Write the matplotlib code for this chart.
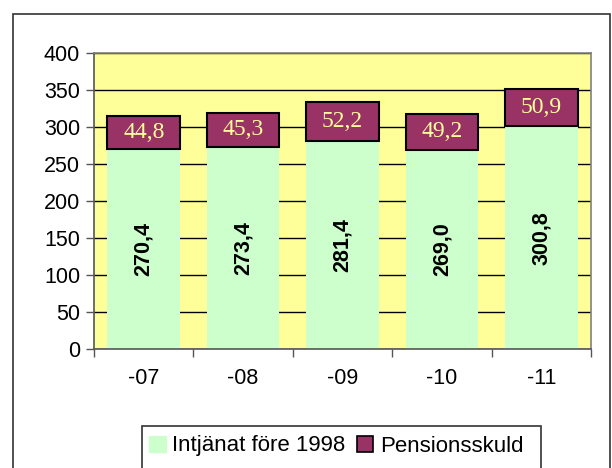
import matplotlib
matplotlib.use("Agg")
import matplotlib.pyplot as plt
from matplotlib.patches import Rectangle, Patch

years = ["-07", "-08", "-09", "-10", "-11"]
intjanat = [270.4, 273.4, 281.4, 269.0, 300.8]
skuld = [44.8, 45.3, 52.2, 49.2, 50.9]

GREEN = "#ccffcc"
PURPLE = "#993366"
BG = "#ffff99"
SANS = "Liberation Sans"
SERIF = "Liberation Serif"

W, H = 612, 468
fig = plt.figure(figsize=(W / 100, H / 100), dpi=100)
fig.patch.set_facecolor("white")

# outer chart frame (bottom runs past the image edge, as in the reference)
fig.patches.append(Rectangle((13 / W, -0.05), (610 - 13) / W, 1.05 - 14 / H,
                             transform=fig.transFigure, fill=False,
                             ec="#333333", lw=1.2, zorder=0))

ax = fig.add_axes([94 / W, (H - 349) / H, (591 - 94) / W, (349 - 53) / H])
ax.set_facecolor(BG)
x = range(len(years))
ax.bar(x, intjanat, width=0.73, color=GREEN, zorder=2)
ax.bar(x, skuld, width=0.73, bottom=intjanat, color=PURPLE,
       edgecolor="black", lw=1.5, zorder=3)

for i, (a, b) in enumerate(zip(intjanat, skuld)):
    ax.text(i, a / 2, f"{a:.1f}".replace(".", ","), rotation=90, ha="center",
            va="center", fontsize=15.5, fontweight="bold", family=SANS, zorder=4)
    ax.text(i, a + b / 2, f"{b:.1f}".replace(".", ","), ha="center",
            va="center", fontsize=17, color="#ffff99", family=SERIF, zorder=4)

ax.set_xlim(-0.5, 4.5)
ax.set_ylim(0, 400)
ax.set_yticks(range(0, 401, 50))
ax.yaxis.grid(True, color="black", lw=1, zorder=1)
ax.set_axisbelow(True)
ax.set_xticks(list(x))
ax.set_xticklabels(years)
ax.set_xticks([i + 0.5 for i in range(-1, 5)], minor=True)
ax.tick_params(axis="x", which="major", length=0, pad=14)
ax.tick_params(axis="x", which="minor", length=6, color="#555555", width=1)
ax.tick_params(axis="y", length=6, color="#555555", width=1, pad=4)
for lab in ax.get_xticklabels() + ax.get_yticklabels():
    lab.set_family(SANS)
    lab.set_fontsize(15.5)
for s in ax.spines.values():
    s.set_color("#808080")
    s.set_linewidth(1.2)
ax.spines["left"].set_color("#555555")
ax.spines["bottom"].set_color("#555555")

# legend box, also cut by the image bottom
fig.patches.append(Rectangle((142 / W, -0.05), (541 - 142) / W, 0.05 + (H - 426) / H,
                             transform=fig.transFigure, fill=False,
                             ec="#333333", lw=1.2, zorder=1))
handles = [Patch(fc=GREEN, ec=GREEN, label="Intjänat före 1998"),
           Patch(fc=PURPLE, ec="black", lw=1.2, label="Pensionsskuld")]
fig.legend(handles=handles, loc="center left", bbox_to_anchor=(149 / W, (H - 446) / H),
           ncol=2, frameon=False, prop={"family": SANS, "size": 16},
           handlelength=0.75, handleheight=0.7, handletextpad=0.3,
           columnspacing=0.5, borderaxespad=0, borderpad=0)

fig.savefig("out.png", dpi=100)
